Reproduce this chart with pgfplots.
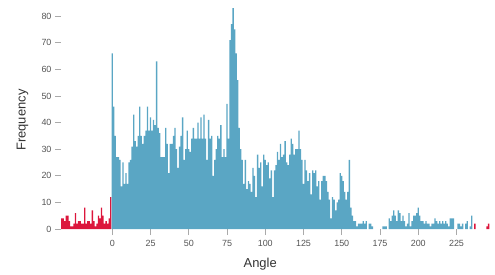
\documentclass[border=0pt]{standalone}
\usepackage{pgfplots}
\pgfplotsset{compat=1.18}
\usepackage{fontspec}
\setmainfont{Liberation Sans}
\definecolor{barblue}{RGB}{90,166,196}
\definecolor{barred}{RGB}{220,22,60}
\definecolor{ticklab}{RGB}{85,85,85}
\definecolor{tickcol}{RGB}{170,170,170}
\begin{document}
\begin{tikzpicture}
\begin{axis}[
  name=ax,
  at={(0,0)}, anchor=south west,
  scale only axis,
  width=428.4bp, height=228.8bp,
  xmin=-33.5, xmax=246.5,
  ymin=0, ymax=86,
  ybar, bar shift=0pt, bar width=0.86,
  axis line style={draw=none},
  xtick={0,25,...,225},
  ytick={0,10,...,80},
  tick align=outside,
  major tick length=6bp,
  tick style={color=tickcol, line width=0.6pt},
  xtick pos=bottom, ytick pos=left,
  ticklabel style={font=\fontsize{9}{9}\selectfont, color=ticklab},
  xticklabel style={yshift=-2bp},
  /pgf/number format/assume math mode=true,
  xlabel={Angle},
  ylabel={Frequency},
  xlabel style={font=\fontsize{13}{13}\selectfont, color=black!80, at={(axis description cs:0.465,0)}, anchor=center, yshift=-35bp},
  ylabel style={font=\fontsize{13}{13}\selectfont, color=black!80, at={(axis description cs:-0.09,0.476)}, anchor=center},
  clip=false,
]
\addplot[fill=barred, draw=none] coordinates {
(-33,4)(-32,4)(-31,3)(-30,5)(-29,5)(-28,3)(-27,1)(-26,1)(-25,2)(-24,6)
(-23,2)(-22,3)(-21,3)(-20,2)(-19,2)(-18,8)(-17,2)(-16,3)(-15,3)(-14,2)
(-13,7)(-12,3)(-11,1)(-10,2)(-9,5)(-8,4)(-7,8)(-6,5)(-5,2)(-4,3)
(-3,2)(-2,4)(-1,12)
(237,2)(245,1)(246,2)
};
\addplot[fill=barblue, draw=none] coordinates {
(0,66)(1,46)(2,35)(3,27)(4,27)(5,26)(6,16)(7,25)(8,17)(9,21)
(10,17)(11,25)(12,26)(13,31)(14,43)(15,33)(16,31)(17,35)(18,46)(19,35)
(20,32)(21,35)(22,37)(23,46)(24,37)(25,42)(26,37)(27,41)(28,39)(29,63)
(30,38)(31,36)(32,27)(33,27)(34,27)(35,38)(36,32)(37,21)(38,32)(39,32)
(40,35)(41,38)(42,30)(43,23)(44,31)(45,35)(46,42)(47,26)(48,30)(49,37)
(50,30)(51,29)(52,34)(53,38)(54,34)(55,34)(56,40)(57,34)(58,42)(59,34)
(60,43)(61,34)(62,26)(63,41)(64,34)(65,35)(66,20)(67,26)(68,30)(69,35)
(70,34)(71,39)(72,27)(73,30)(74,27)(75,47)(76,34)(77,71)(78,77)(79,83)
(80,75)(81,66)(82,56)(83,38)(84,30)(85,26)(86,17)(87,26)(88,15)(89,18)
(90,17)(91,14)(92,23)(93,20)(94,12)(95,28)(96,23)(97,25)(98,16)(99,28)
(100,26)(101,24)(102,25)(103,19)(104,22)(105,12)(106,22)(107,24)(108,29)(109,26)
(110,32)(111,27)(112,28)(113,33)(114,25)(115,24)(116,28)(117,34)(118,32)(119,28)
(120,30)(121,30)(122,37)(123,30)(124,26)(125,17)(126,26)(127,22)(128,18)(129,21)
(130,13)(131,22)(132,21)(133,22)(134,16)(135,18)(136,11)(137,18)(138,20)(139,20)
(140,18)(141,14)(142,11)(143,4)(144,12)(145,11)(146,7)(147,10)(148,11)(149,21)
(150,20)(151,18)(152,14)(153,11)(154,14)(155,26)(156,8)(157,5)(158,3)(159,3)
(160,1)(161,2)(162,2)(163,2)(164,3)(165,2)(166,3)(168,2)(169,2)
(170,1)(177,1)(178,1)(179,1)
(181,4)(182,3)(183,5)(184,7)(185,5)(186,3)(187,7)(188,6)(189,3)
(190,5)(191,3)(192,1)(193,2)(194,6)(195,1)(196,3)(197,5)(198,5)(199,6)
(200,8)(201,5)(202,3)(203,3)(204,2)(205,3)(206,2)(207,2)(208,1)(209,2)
(210,2)(211,4)(212,3)(213,2)(214,3)(215,2)(216,3)(217,2)(218,3)(219,2)
(220,1)(221,4)(222,4)(223,4)(226,2)(227,2)(228,1)(229,2)
(231,2)(232,3)(234,1)(235,5)
};
\end{axis}
\pgfresetboundingbox
\path (ax.south west) ++(-61bp,-46bp) rectangle ++(495bp,275bp);
\end{tikzpicture}
\end{document}
